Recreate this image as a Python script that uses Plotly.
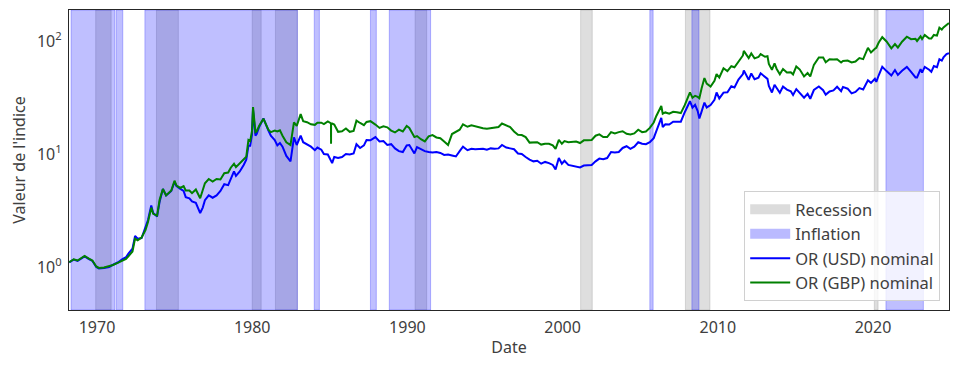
import plotly.graph_objects as go

# ---- data (index values) ----
dates = [
"1968-03-18","1968-07-01","1968-10-01","1969-01-02","1969-03-15","1969-06-15","1969-09-15","1969-12-15",
"1970-02-15","1970-06-15","1970-10-15","1971-01-15","1971-05-15","1971-08-15","1971-11-15",
"1972-01-15","1972-04-15","1972-06-15","1972-08-15","1972-11-15",
"1973-02-15","1973-04-15","1973-07-01","1973-08-15","1973-11-15",
"1974-01-15","1974-04-01","1974-06-15","1974-08-15","1974-10-15","1974-12-30",
"1975-02-15","1975-05-15","1975-08-01","1975-09-20","1975-12-15",
"1976-02-15","1976-05-15","1976-08-25","1976-10-25","1976-12-15",
"1977-03-15","1977-06-15","1977-09-15","1977-12-15",
"1978-03-15","1978-06-15","1978-08-15","1978-10-30","1978-12-15",
"1979-03-15","1979-06-15","1979-08-15","1979-10-05","1979-11-15","1979-12-28",
"1980-01-21","1980-02-15","1980-03-18","1980-04-15","1980-06-15","1980-09-22","1980-11-15",
"1981-01-15","1981-03-15","1981-06-15","1981-08-15","1981-10-15","1981-12-15",
"1982-03-15","1982-06-21","1982-09-10","1982-11-15",
"1983-02-15","1983-04-15","1983-07-15","1983-10-15",
"1984-01-15","1984-03-15","1984-06-15","1984-08-15","1984-11-15",
"1985-01-15","1985-01-29","1985-01-30","1985-01-31","1985-02-25","1985-04-15","1985-07-15","1985-10-15",
"1986-01-15","1986-04-15","1986-07-15","1986-09-20","1986-12-15",
"1987-03-15","1987-05-15","1987-08-15","1987-12-10",
"1988-03-15","1988-06-15","1988-09-15","1988-12-15",
"1989-03-15","1989-06-15","1989-09-15","1989-12-15",
"1990-02-15","1990-06-15","1990-08-15","1990-11-15",
"1991-02-15","1991-05-15","1991-08-15","1991-11-15",
"1992-02-15","1992-05-15","1992-08-15","1992-11-15",
"1993-02-15","1993-05-15","1993-08-01","1993-11-15",
"1994-02-15","1994-05-15","1994-08-15","1994-11-15",
"1995-02-15","1995-05-15","1995-08-15","1995-11-15",
"1996-02-05","1996-05-15","1996-08-15","1996-11-15",
"1997-02-15","1997-05-15","1997-08-15","1997-11-15",
"1998-02-15","1998-05-15","1998-08-15","1998-11-15",
"1999-02-15","1999-05-15","1999-07-20","1999-10-05","1999-12-15",
"2000-02-15","2000-05-15","2000-08-15","2000-11-15",
"2001-02-15","2001-05-15","2001-08-15","2001-11-15",
"2002-02-15","2002-05-15","2002-08-15","2002-11-15",
"2003-02-15","2003-05-15","2003-08-15","2003-11-15",
"2004-02-15","2004-05-15","2004-08-15","2004-11-15",
"2005-02-15","2005-05-15","2005-08-15","2005-11-15",
"2006-01-15","2006-05-12","2006-06-15","2006-08-15","2006-11-15",
"2007-02-15","2007-05-15","2007-08-15","2007-11-15",
"2008-01-15","2008-03-17","2008-05-15","2008-07-15","2008-09-15","2008-10-24","2008-12-15",
"2009-02-20","2009-04-15","2009-07-15","2009-10-15","2009-12-03",
"2010-02-05","2010-05-15","2010-08-15","2010-11-15",
"2011-01-28","2011-05-02","2011-08-15","2011-09-05","2011-12-29",
"2012-02-28","2012-05-15","2012-08-15","2012-10-05",
"2013-01-15","2013-03-15","2013-04-16","2013-06-28","2013-08-28","2013-10-15","2013-12-31",
"2014-03-15","2014-06-15","2014-09-15","2014-11-07",
"2015-01-22","2015-04-15","2015-07-24","2015-10-15","2015-12-17",
"2016-03-11","2016-07-06","2016-10-15","2016-12-15",
"2017-03-15","2017-06-15","2017-09-08","2017-12-12",
"2018-01-25","2018-05-15","2018-08-16","2018-11-15",
"2019-02-15","2019-05-15","2019-09-04","2019-11-15",
"2020-02-15","2020-03-19","2020-05-15","2020-08-06","2020-11-15",
"2021-03-08","2021-06-01","2021-08-09","2021-11-15",
"2022-03-08","2022-06-15","2022-09-28","2022-11-03",
"2023-01-25","2023-03-01","2023-05-03","2023-08-15","2023-10-05","2023-12-04",
"2024-02-15","2024-04-12","2024-06-07","2024-07-17","2024-09-26","2024-11-22",
]

or_usd = [
1.10,1.16,1.13,1.20,1.24,1.18,1.13,1.00,
0.97,0.98,1.00,1.05,1.10,1.17,1.22,
1.32,1.45,1.88,1.78,1.80,
2.20,2.60,3.50,3.00,2.80,
3.80,4.90,4.30,4.50,4.70,5.65,
5.20,4.90,4.70,4.15,4.05,
3.80,3.70,3.00,3.35,3.90,
4.30,4.10,4.30,4.70,
5.40,5.30,6.10,7.00,6.40,
7.00,8.00,8.90,11.8,11.8,14.8,
24.6,19.5,14.5,15.0,17.4,20.6,18.0,
16.2,14.5,13.3,11.9,12.5,11.6,
9.6,8.6,14.0,12.0,
14.5,12.7,12.2,11.6,
10.8,11.4,10.9,10.0,9.9,
8.8,8.5,8.5,8.5,8.3,9.4,9.2,9.4,
10.0,9.9,10.1,12.2,11.3,
11.9,13.3,13.2,14.1,
12.9,13.0,12.0,12.2,
11.2,10.6,10.4,11.9,
12.0,10.1,11.5,11.0,
10.6,10.4,10.3,10.4,
10.2,9.8,9.9,9.7,
9.5,10.6,11.6,10.8,
11.1,11.0,11.0,11.1,
10.9,11.2,11.1,11.2,
12.0,11.4,11.2,11.0,
10.1,10.0,9.4,8.9,
8.6,8.7,8.2,8.5,
8.3,8.0,7.3,9.2,8.2,
8.7,8.0,7.9,7.7,
7.6,7.9,7.9,8.0,
8.6,9.1,9.0,9.2,
10.4,10.3,10.4,11.3,
11.7,11.1,11.6,12.7,
12.3,12.2,12.7,13.8,
15.9,20.9,17.3,18.3,18.2,
19.3,19.3,19.3,23.4,
25.8,29.3,25.7,27.2,24.0,20.6,23.7,
28.5,25.8,27.1,30.2,35.0,
31.0,34.9,35.2,39.7,
38.8,45.5,50.9,54.9,45.3,
51.6,45.9,47.2,51.7,
48.4,46.2,40.0,35.0,41.0,38.1,34.8,
39.5,37.1,35.9,33.3,
37.5,34.7,31.5,34.1,30.8,
36.8,39.5,36.7,33.5,
35.7,36.5,39.3,36.0,
39.2,37.8,34.4,35.4,
38.3,37.2,44.9,42.6,
46.3,43.5,49.7,59.1,54.1,
49.5,55.3,50.0,54.5,
59.0,53.2,47.5,47.5,
56.3,52.5,59.0,55.6,53.3,60.0,
58.6,69.0,67.0,71.5,76.5,78.0,
]

or_gbp = [
1.10,1.17,1.14,1.21,1.25,1.19,1.14,1.01,
0.98,0.99,1.01,1.04,1.09,1.14,1.18,
1.25,1.37,1.78,1.72,1.82,
2.12,2.50,3.35,2.95,2.85,
3.95,4.90,4.30,4.50,4.75,5.80,
5.25,5.00,5.20,4.75,4.75,
4.50,4.85,4.05,4.90,5.50,
6.00,5.70,6.00,5.95,
6.75,6.85,7.55,8.20,7.65,
8.30,9.00,9.45,13.3,13.0,16.0,
26.0,20.8,15.6,15.8,17.8,20.5,18.2,
16.4,15.6,16.1,15.8,16.2,14.5,
12.7,12.0,19.0,17.7,
22.5,19.5,19.1,18.3,
18.1,18.9,18.9,18.4,19.4,
18.8,18.6,12.3,18.6,18.6,18.2,15.7,15.9,
16.8,15.7,16.0,19.7,18.8,
18.0,19.2,19.5,18.2,
17.0,17.6,17.2,16.1,
15.5,16.4,15.8,17.7,
17.0,14.1,14.4,13.5,
12.9,14.3,14.7,14.0,
13.8,12.9,12.0,15.0,
15.6,16.4,18.3,17.4,
17.9,17.5,17.1,16.9,
16.7,16.9,17.0,17.3,
18.6,18.0,17.3,15.8,
14.8,14.7,14.1,12.6,
12.6,12.7,12.1,12.3,
12.3,11.9,11.1,13.3,12.3,
13.0,12.7,12.8,12.9,
12.5,13.2,13.2,13.3,
14.5,14.9,14.1,14.1,
15.6,15.2,15.6,15.9,
15.1,14.9,15.2,16.4,
15.6,15.8,17.0,19.0,
21.7,26.6,22.7,23.3,22.7,
23.6,23.4,23.0,27.0,
31.3,35.1,31.4,32.7,32.0,31.1,38.0,
47.0,42.0,39.5,44.4,51.0,
47.5,57.3,54.1,59.8,
58.5,65.5,74.4,81.7,70.5,
77.5,70.1,72.1,76.5,
72.5,73.3,62.6,55.5,63.5,56.8,50.8,
56.5,52.6,52.8,50.5,
59.5,55.8,48.5,52.0,48.5,
61.5,71.5,71.5,64.8,
68.9,68.4,69.0,64.5,
66.5,67.1,64.5,65.7,
70.5,69.1,87.0,79.1,
85.3,87.0,96.8,108.0,98.9,
86.0,94.0,87.5,98.5,
109.0,103.7,104.5,100.0,
110.0,104.0,113.0,104.9,105.0,113.0,
111.5,131.0,126.0,132.0,137.5,144.0,
]

recession_start = ["1969-12-01","1973-11-01","1980-01-01","1981-07-01","1990-07-01","2001-03-01","2007-12-01","2020-02-01"]
recession_end   = ["1970-11-30","1975-03-31","1980-07-31","1982-11-30","1991-03-31","2001-11-30","2009-06-30","2020-04-30"]

inflation_start = ["1968-05-01","1971-04-01","1973-02-01","1984-01-01","1987-08-15","1988-11-01","2005-08-15","2008-05-01","2020-11-01"]
inflation_end   = ["1971-02-28","1971-08-31","1982-11-30","1984-05-01","1988-01-01","1991-07-01","2005-11-01","2008-10-15","2023-04-01"]

year_ticks = [1970, 1980, 1990, 2000, 2010, 2020]
y_ticks = [1, 10, 100]
y_tick_text = ["10<sup>0</sup>", "10<sup>1</sup>", "10<sup>2</sup>"]

# ---- figure ----
FONT = "Noto Sans"
TXT = "#404040"
FS = 16
REC_COL = "rgba(128,128,128,0.26)"
INF_COL = "rgba(0,0,255,0.25)"

fig = go.Figure()

shapes = []
for s, e in zip(recession_start, recession_end):
    shapes.append(dict(type="rect", xref="x", yref="paper", x0=s, x1=e, y0=0, y1=1,
                       fillcolor=REC_COL, line=dict(width=1, color=REC_COL), layer="below"))
for s, e in zip(inflation_start, inflation_end):
    shapes.append(dict(type="rect", xref="x", yref="paper", x0=s, x1=e, y0=0, y1=1,
                       fillcolor=INF_COL, line=dict(width=1, color=INF_COL), layer="below"))

# legend entries for the shaded spans (thick line swatches)
fig.add_trace(go.Scatter(x=[None], y=[None], mode="lines", name="Recession",
                         line=dict(color="rgba(128,128,128,0.28)", width=12), hoverinfo="skip"))
fig.add_trace(go.Scatter(x=[None], y=[None], mode="lines", name="Inflation",
                         line=dict(color="rgba(0,0,255,0.27)", width=12), hoverinfo="skip"))

fig.add_trace(go.Scatter(x=dates, y=or_usd, mode="lines", name="OR (USD) nominal",
                         line=dict(color="#0000ff", width=2)))
fig.add_trace(go.Scatter(x=dates, y=or_gbp, mode="lines", name="OR (GBP) nominal",
                         line=dict(color="#008000", width=2)))

# the page body adds an 8px offset, so the figure is 8px smaller and margins shifted
fig.update_layout(
    width=950, height=361,
    margin=dict(l=61, r=9, t=2, b=59),
    paper_bgcolor="white", plot_bgcolor="white",
    font=dict(family=FONT, size=FS, color=TXT),
    shapes=shapes,
    showlegend=True,
    legend=dict(x=0.99, y=0.03, xanchor="right", yanchor="bottom",
                bgcolor="rgba(255,255,255,0.8)", bordercolor="#d0d0d0", borderwidth=1,
                font=dict(family=FONT, size=16.5, color=TXT), traceorder="normal",
                itemwidth=40),
)

fig.update_xaxes(
    type="date", range=["1968-03-13", "2024-11-24"], automargin=False,
    tickvals=[f"{y}-01-01" for y in year_ticks], ticktext=[str(y) for y in year_ticks],
    showgrid=False, zeroline=False, showline=True, mirror=True, linecolor="#262626", linewidth=1.2,
    ticks="outside", ticklen=3, tickcolor="rgba(0,0,0,0)",
    tickfont=dict(family=FONT, size=FS, color=TXT),
    title=dict(text="Date", font=dict(family=FONT, size=FS, color=TXT), standoff=4),
)
fig.update_yaxes(
    type="log", range=[-0.381, 2.274], automargin=False,
    tickvals=y_ticks, ticktext=y_tick_text,
    showgrid=False, zeroline=False, showline=True, mirror=True, linecolor="#262626", linewidth=1.2,
    ticks="outside", ticklen=3, tickcolor="rgba(0,0,0,0)",
    tickfont=dict(family=FONT, size=FS, color=TXT),
    title=dict(text="Valeur de l'indice", font=dict(family=FONT, size=FS, color=TXT), standoff=10),
)

fig.write_html("out.html")
